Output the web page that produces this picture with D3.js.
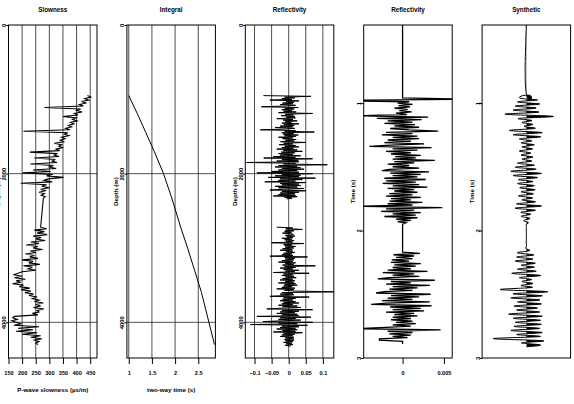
<!DOCTYPE html>
<html>
<head>
<meta charset="utf-8">
<script src="https://cdn.jsdelivr.net/npm/d3@7"></script>
<style>
  body { margin: 0; background: #fff; }
  svg text { font-family: "Liberation Sans", Arial, sans-serif; font-weight: bold; fill: #000; }
</style>
</head>
<body>
<div class="visContainer"></div>
<script>
// Log sampling (m).
const logStep = 20;
const reflStep = 10;
const logTop1 = 950;
const logTop2 = 2720;

// P-wave slowness (us/m), upper and lower log runs.
const slowness1 = [440, 452, 430, 445, 418, 436, 410, 425, 282, 415, 400, 420, 392, 405, 350, 398, 385, 402, 378, 390,
  370, 382, 360, 375, 205, 368, 355, 372, 345, 358, 340, 352, 318, 345, 335, 348, 325, 338, 228, 330,
  318, 335, 245, 322, 310, 328, 230, 315, 300, 325, 240, 305, 202, 312, 290, 352, 295, 280, 310, 195,
  290, 272, 300, 268, 285, 262, 282, 270, 285, 278];
const slowness2 = [268, 290, 245, 282, 255, 292, 240, 270, 250, 285, 232, 262, 215, 258, 240, 275, 230, 250, 212, 245,
  228, 258, 200, 240, 225, 265, 205, 238, 222, 250, 200, 185, 168, 200, 172, 212, 178, 195, 165, 205,
  190, 228, 196, 232, 210, 242, 225, 255, 238, 262, 245, 278, 250, 268, 242, 280, 255, 262, 238, 258,
  172, 165, 182, 162, 178, 195, 170, 262, 185, 240, 178, 255, 200, 268, 232, 272, 245, 262, 250, 258];

// Integrated two-way time against depth.
const integralDepth = [950, 1200, 1450, 1700, 2000, 2330, 2720, 3000, 3300, 3600, 3900, 4300];
const integralTime = [1.0, 1.19, 1.37, 1.55, 1.75, 1.93, 2.12, 2.27, 2.42, 2.57, 2.69, 2.85];

// Reflectivity in depth (10 m samples).
const reflDepth1 = [
  -0.074, 0.065, -0.012, 0.018, -0.02, 0.01, -0.055, 0.03, -0.008, 0.015,
  -0.018, 0.012, -0.025, 0.02, -0.01, -0.08, 0.028, -0.012, 0.016, -0.02,
  0.01, -0.015, 0.022, -0.03, 0.07, -0.01, 0.014, -0.022, 0.018, -0.008,
  0.02, -0.035, 0.012, -0.016, 0.025, -0.01, 0.008, -0.02, 0.03, -0.014,
  0.016, -0.025, 0.012, -0.04, 0.018, -0.01, -0.083, 0.02, -0.012, 0.075,
  -0.02, 0.014, -0.016, 0.028, -0.012, 0.02, -0.03, 0.012, -0.018, 0.022,
  -0.01, 0.016, -0.024, 0.05, -0.015, 0.012, -0.028, 0.02, -0.012, 0.03,
  -0.02, 0.014, -0.035, 0.025, -0.015, 0.04, -0.022, 0.018, -0.03, 0.012,
  -0.025, 0.035, -0.045, 0.02, -0.073, 0.07, -0.02, 0.028, -0.035, 0.03,
  -0.123, 0.02, -0.015, 0.113, -0.03, 0.025, -0.04, 0.035, -0.02, 0.045,
  -0.03, 0.025, -0.05, 0.03, -0.093, 0.07, -0.02, 0.035, -0.04, 0.03,
  -0.06, 0.078, -0.025, 0.04, -0.03, 0.02, -0.07, 0.05, -0.025, 0.03,
  -0.02, 0.035, -0.04, 0.025, -0.03, 0.045, -0.015, -0.055, 0.05, -0.02,
  0.03, -0.025, 0.018, -0.03, 0.02, -0.045, 0.025, -0.012, 0.01, -0.006];
const reflDepth2 = [
  -0.035, 0.012, -0.008, 0.04, -0.01, 0.015, -0.012, 0.008, -0.018, 0.01,
  0.014, -0.01, 0.018, -0.006, 0.012, -0.02, 0.01, -0.012, 0.016, -0.008,
  0.012, -0.05, 0.045, -0.015, 0.01, -0.012, 0.02, -0.01, 0.015, -0.018,
  0.01, -0.025, 0.012, -0.008, 0.018, -0.015, 0.01, -0.02, 0.012, -0.055,
  0.055, -0.012, 0.018, -0.01, 0.015, -0.02, 0.012, -0.03, 0.02, -0.01,
  0.014, -0.018, 0.078, -0.012, 0.02, -0.025, 0.012, -0.015, 0.03, -0.01,
  0.018, -0.045, 0.06, -0.015, 0.012, -0.02, 0.016, -0.01, 0.022, -0.018,
  0.012, -0.025, 0.018, -0.01, 0.015, -0.03, 0.02, -0.012, 0.025, -0.015,
  0.01, -0.02, 0.018, -0.035, 0.015, -0.012, 0.02, 0.14, -0.02, 0.012,
  -0.025, 0.015, -0.012, -0.055, 0.06, -0.015, 0.02, -0.018, 0.012, -0.025,
  0.02, -0.015, 0.03, -0.02, 0.012, -0.03, 0.025, -0.018, 0.035, -0.022,
  -0.064, 0.07, -0.02, 0.03, -0.025, 0.018, -0.035, 0.025, -0.02, 0.03,
  -0.093, 0.065, -0.025, 0.02, -0.03, 0.035, -0.02, -0.075, 0.07, -0.03,
  0.025, -0.112, 0.055, -0.02, 0.03, -0.025, 0.02, -0.035, 0.025, -0.018,
  0.02, -0.045, 0.04, -0.015, 0.018, -0.02, 0.012, -0.025, 0.015, -0.01,
  0.014, -0.012, 0.016, -0.01, 0.012, -0.015, 0.01, -0.008, 0.012, -0.01,
  0.006];

// Reflectivity in two-way time (s).
const reflTimeStart = 0.96;
const reflTimeStep = 0.01;
const reflTime = [0, 0.009, -0.009, 0.0008, -0.0006, 0.0012, -0.0005, 0.0009, -0.0010, 0.0006,
  -0.0004, 0.0011, -0.0008, 0.0005, -0.0060, 0.0031, -0.0031, 0.0023, -0.0018, 0.0012,
  -0.0022, 0.0015, -0.0010, 0.0020, -0.0015, 0.0008, 0.0043, -0.0020, 0.0012, -0.0025,
  0.0018, -0.0012, 0.0020, -0.0018, 0.0010, -0.0022, 0.0026, -0.0015, -0.0040, 0.0035,
  -0.0012, 0.0018, -0.0020, 0.0010, -0.0014, 0.0022, -0.0009, 0.0016, -0.0012, 0.0039,
  -0.0010, 0.0014, -0.0018, 0.0008, -0.0012, 0.0020, -0.0016, -0.0025, 0.0032, -0.0015,
  0.0022, -0.0012, 0.0018, -0.0022, 0.0028, -0.0020, 0.0016, -0.0024, 0.0020, -0.0012,
  0.0030, -0.0018, 0.0014, -0.0010, 0.0018, -0.0016, 0.0012, -0.0020, 0.0022, -0.0014,
  0.0010, -0.0016, 0.0024, -0.0018, 0.0012, -0.0060, 0.0048, -0.0020, 0.0014, -0.0026,
  0.0022, -0.0012, 0.0016, -0.0022, 0.0018, -0.0008, 0.0010, -0.0006, 0.0004,
  0, 0, 0, 0, 0, 0, 0, 0, 0, 0, 0, 0, 0, 0, 0, 0, 0, 0, 0, 0, 0, 0, 0,
  0.0021, -0.0011, 0.0014, -0.0008, 0.0012, -0.0013, 0.0008, -0.0014, 0.0022, -0.0010,
  0.0016, -0.0012, 0.0010, -0.0018, 0.0030, -0.0024, 0.0014, -0.0012, 0.0020, -0.0016,
  -0.0030, 0.0039, -0.0014, 0.0010, -0.0020, 0.0033, -0.0012, 0.0018, -0.0016, 0.0012,
  -0.0022, -0.0032, 0.0034, -0.0014, 0.0020, -0.0018, 0.0012, -0.0025, 0.0033, -0.0020,
  -0.0038, 0.0035, -0.0015, 0.0022, -0.0012, 0.0026, -0.0020, 0.0014, -0.0010, 0.0018,
  -0.0012, 0.0010, -0.0014, 0.0012, -0.0008, 0.0016, -0.0012, 0.0010, -0.0020, -0.0055,
  0.0046, -0.0018, 0.0012, -0.0016, 0.0010, -0.0012, 0.0006, -0.0028, -0.0028, 0, 0, 0];

// Synthetic trace (normalised amplitude).
const synthStart = 0.928;
const synthStep = 0.016;
const synthetic = [0, 0.1, -0.15, 0.25, -0.2, 0.3, -0.25, 0.22, -0.3, 0.28,
  -0.48, 0.6, -0.15, 0.12, -0.1, 0.15, -0.05, 0.18, -0.38, 0.36,
  -0.3, 0.32, -0.15, 0.12, -0.12, 0.18, -0.1, 0.14, -0.16, 0.1,
  -0.12, 0.15, -0.1, 0.12, -0.2, 0.18, -0.25, 0.22, -0.35, 0.34,
  -0.3, 0.25, -0.18, 0.15, -0.2, 0.18, -0.15, 0.2, -0.12, 0.16,
  -0.18, 0.14, -0.1, 0.2, -0.22, 0.34, -0.25, 0.2, -0.12, 0.1,
  -0.12, 0.08, -0.06, 0.04, 0, 0, 0, 0, 0, 0, 0, 0, 0, 0, 0, 0, 0,
  0.05, -0.2, 0.17, -0.22, 0.15, -0.25, 0.2, -0.12, 0.18, -0.2,
  0.22, -0.33, 0.32, -0.15, 0.12, -0.1, 0.15, -0.12, 0.1, -0.58,
  0.48, -0.3, 0.36, -0.35, 0.3, -0.2, 0.34, -0.28, 0.25, -0.22,
  0.3, -0.4, 0.36, -0.3, 0.32, -0.25, 0.34, -0.28, 0.3, -0.35,
  0.36, -0.22, 0.3, -0.75, 0.36, -0.1, 0.3, 0];

// Tick values.
const depthTicks = [0, 2000, 4000];
const twtTicks = [1, 2, 3];
const slowTicks = [150, 200, 250, 300, 350, 400, 450];
const integralTicks = [1, 1.5, 2, 2.5];
const reflTicks = [-0.1, -0.05, 0, 0.05, 0.1];
const reflTimeTicks = [0, 0.005];

// SVG constants.
const width = 574;
const height = 404;
const plotTop = 25;
const plotBottom = 358;
const panelW = 88.5;
const panelGap = 118.4;
const left0 = 8.5;

const svg = d3.select('.visContainer')
              .append('svg')
              .attr('width', width)
              .attr('height', height);

// Vertical scales.
const depthY = d3.scaleLinear().domain([0, 4480]).range([plotTop, plotBottom]);
const timeY = d3.scaleLinear().domain([0.388, 3]).range([plotTop, plotBottom]);
const fmt = d3.format('');

// Build sample lists.
const slowPts = slowness1.map((v, i) => [logTop1 + i * logStep, v])
  .concat(slowness2.map((v, i) => [logTop2 + i * logStep, v]));
const reflPts1 = reflDepth1.map((v, i) => [logTop1 + i * reflStep, v]);
const reflPts2 = reflDepth2.map((v, i) => [logTop2 + i * reflStep, v]);
const intPts = integralDepth.map((d, i) => [d, integralTime[i]]);
const reflTimePts = [[timeY.domain()[0], 0]]
  .concat(reflTime.map((v, i) => [reflTimeStart + i * reflTimeStep, v]));
const synthPts = [[timeY.domain()[0], 0]]
  .concat(synthetic.map((v, i) => [synthStart + i * synthStep, v]));

const panels = [
  {title: 'Slowness', xdom: [150, 475], y: depthY, ticks: slowTicks, grid: true,
   xlab: 'P-wave slowness (\u00b5s/m)', ylab: 'Depth (m)', yticks: depthTicks},
  {title: 'Integral', xdom: [0.96, 2.87], y: depthY, ticks: integralTicks, grid: true,
   xlab: 'two-way time (s)', ylab: 'Depth (m)', yticks: depthTicks},
  {title: 'Reflectivity', xdom: [-0.127, 0.132], y: depthY, ticks: reflTicks, grid: true,
   xlab: '', ylab: 'Depth (m)', yticks: depthTicks},
  {title: 'Reflectivity', xdom: [-0.0047, 0.006], y: timeY, ticks: reflTimeTicks, grid: false,
   xlab: '', ylab: 'Time (s)', yticks: twtTicks},
  {title: 'Synthetic', xdom: [-1, 1], y: timeY, ticks: [], grid: false,
   xlab: '', ylab: 'Time (s)', yticks: twtTicks}
];

panels.forEach((p, k) => {
  const x0 = left0 + k * panelGap;
  const x = d3.scaleLinear().domain(p.xdom).range([x0, x0 + panelW]);
  const g = svg.append('g');

  g.append('clipPath').attr('id', 'clip' + k)
   .append('rect')
   .attr('x', x0).attr('y', plotTop).attr('width', panelW).attr('height', plotBottom - plotTop);

  // Grid.
  if (p.grid) {
    g.selectAll('.vgrid').data(p.ticks).enter().append('line')
     .attr('x1', d => x(d)).attr('x2', d => x(d))
     .attr('y1', plotTop).attr('y2', plotBottom)
     .attr('stroke', '#222').attr('stroke-width', 0.8);
    g.selectAll('.hgrid').data(p.yticks.slice(1)).enter().append('line')
     .attr('x1', x0).attr('x2', x0 + panelW)
     .attr('y1', d => p.y(d)).attr('y2', d => p.y(d))
     .attr('stroke', '#222').attr('stroke-width', 0.8);
  }

  const plot = g.append('g').attr('clip-path', 'url(#clip' + k + ')');
  const line = d3.line().x(d => x(d[1])).y(d => p.y(d[0]));
  let sw = 1;

  if (k === 0) {
    plot.append('path').attr('d', line(slowPts));
    sw = 1.1;
  } else if (k === 1) {
    plot.append('path').attr('d', line(intPts));
  } else if (k === 2) {
    plot.append('path').attr('d', line(reflPts1));
    plot.append('path').attr('d', line(reflPts2));
  } else if (k === 3) {
    plot.append('path').attr('d', line(reflTimePts));
    sw = 1.3;
  } else {
    // Wiggle trace, positive lobes filled.
    const zero = x(0);
    plot.append('clipPath').attr('id', 'pos')
        .append('rect')
        .attr('x', zero).attr('y', plotTop).attr('width', x0 + panelW - zero).attr('height', plotBottom - plotTop);
    const area = d3.area().curve(d3.curveNatural)
                   .y(d => p.y(d[0])).x0(zero).x1(d => x(d[1]));
    plot.append('path').attr('d', area(synthPts))
        .attr('clip-path', 'url(#pos)')
        .attr('fill', '#000');
    plot.append('path').attr('d', line.curve(d3.curveNatural)(synthPts));
  }
  plot.selectAll('path:not([fill])').attr('fill', 'none').attr('stroke', '#000').attr('stroke-width', sw);

  // Frame.
  g.append('rect')
   .attr('x', x0).attr('y', plotTop).attr('width', panelW).attr('height', plotBottom - plotTop)
   .attr('fill', 'none').attr('stroke', '#000').attr('stroke-width', 1);

  // Bottom axis.
  if (p.ticks.length) {
    const ax = g.append('g').attr('transform', 'translate(0,' + plotBottom + ')')
                .call(d3.axisBottom(x).tickValues(p.ticks).tickFormat(fmt).tickSize(6).tickPadding(7));
    ax.select('.domain').remove();
    ax.selectAll('text').style('font-size', '5.6px').style('font-family', null);
  }

  // Left axis with rotated labels.
  const ay = g.append('g').attr('transform', 'translate(' + x0 + ',0)')
              .call(d3.axisLeft(p.y).tickValues(p.yticks).tickFormat(fmt).tickSize(2.5));
  ay.select('.domain').remove();
  ay.selectAll('text')
    .attr('x', 0).attr('y', -2.6).attr('dy', null)
    .attr('transform', 'rotate(-90)')
    .attr('text-anchor', 'middle')
    .style('font-size', '5.8px').style('font-family', null);

  // Titles.
  g.append('text').attr('x', x0 + panelW / 2).attr('y', 12)
   .attr('text-anchor', 'middle').style('font-size', '6.3px').text(p.title);
  g.append('text')
   .attr('transform', 'translate(' + (x0 - 8.5) + ',' + ((plotTop + plotBottom) / 2) + ') rotate(-90)')
   .attr('text-anchor', 'middle').style('font-size', '6.2px').text(p.ylab);
  if (p.xlab) {
    g.append('text').attr('x', x0 + panelW / 2).attr('y', 392)
     .attr('text-anchor', 'middle').style('font-size', '6.2px').text(p.xlab);
  }
});
</script>
</body>
</html>
